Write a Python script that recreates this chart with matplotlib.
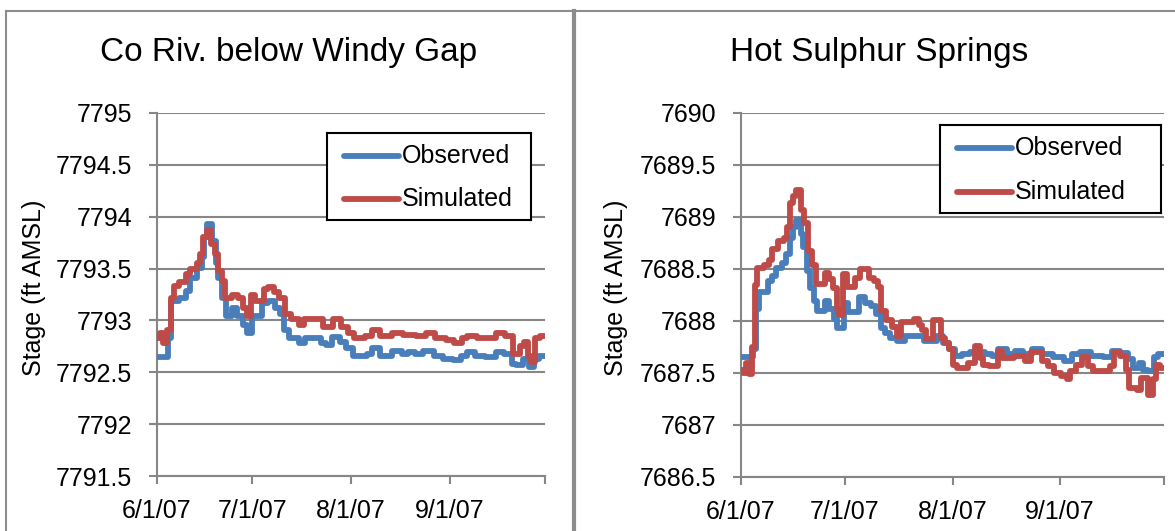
import numpy as np
import matplotlib
matplotlib.use("Agg")
import matplotlib.pyplot as plt
from matplotlib.lines import Line2D

plt.rcParams['font.family'] = ['Liberation Sans', 'DejaVu Sans']

# ---------------- data (day offset from 6/1/2007, stage ft AMSL) ----------------
titles = ["Co Riv. below Windy Gap", "Hot Sulphur Springs"]
series_names = ["Observed", "Simulated"]
x_tick_labels = ["6/1/07", "7/1/07", "8/1/07", "9/1/07", ""]
x_tick_dates = ["2007-06-01", "2007-07-01", "2007-08-01", "2007-09-01", "2007-10-01"]
y_ticks_left = [7791.5, 7792, 7792.5, 7793, 7793.5, 7794, 7794.5, 7795]
y_ticks_right = [7686.5, 7687, 7687.5, 7688, 7688.5, 7689, 7689.5, 7690]

obs_left_day = [0, 3.5, 4.5, 7, 9, 10.5, 12.5, 14, 14.8, 15.6, 17.3, 18.5, 19.3, 20.3, 21.8,
                23.5, 25.2, 27, 28.3, 29.8, 33, 35, 37, 38.7, 40, 41.5, 44.5, 46.5, 51.5, 53,
                55, 57.5, 59.5, 61.5, 66, 67.5, 70, 74, 77, 79, 81, 83.5, 87, 90, 93, 95.5,
                97.5, 100, 103, 106.5, 109, 111.5, 113, 115, 117, 118.5, 120, 122]
obs_left_val = [7792.65, 7792.83, 7793.19, 7793.22, 7793.28, 7793.41, 7793.51, 7793.61, 7793.80,
                7793.93, 7793.77, 7793.55, 7793.41, 7793.22, 7793.04, 7793.12, 7793.04, 7792.96,
                7792.88, 7793.04, 7793.17, 7793.19, 7793.12, 7793.06, 7792.91, 7792.83, 7792.78,
                7792.83, 7792.78, 7792.76, 7792.84, 7792.79, 7792.73, 7792.66, 7792.68, 7792.73,
                7792.66, 7792.71, 7792.68, 7792.70, 7792.68, 7792.71, 7792.66, 7792.63, 7792.62,
                7792.66, 7792.70, 7792.66, 7792.65, 7792.70, 7792.68, 7792.58, 7792.57, 7792.63,
                7792.55, 7792.63, 7792.66, 7792.66]

sim_left_day = [0, 1, 2, 3.2, 4.3, 5.2, 7, 9, 10.5, 12.5, 13.5, 14.6, 15.8, 17, 18.2, 19.3, 20.5,
                21.5, 23.5, 25.5, 27, 28.2, 29.5, 30.8, 33.8, 35, 36.8, 38.5, 40.2, 42, 44.5,
                46.3, 50, 52.3, 55.3, 57.8, 60, 62, 65.5, 67.5, 70, 74, 77.5, 81.5, 84.5, 87.5,
                91, 93.3, 96, 97.5, 100.5, 106.5, 109.5, 112, 114, 115.3, 116.5, 117.6, 119,
                120.3, 122]
sim_left_val = [7792.83, 7792.88, 7792.78, 7792.91, 7793.22, 7793.33, 7793.37, 7793.45, 7793.50,
                7793.55, 7793.64, 7793.80, 7793.87, 7793.74, 7793.64, 7793.48, 7793.38, 7793.22,
                7793.25, 7793.22, 7793.12, 7793.04, 7793.25, 7793.19, 7793.30, 7793.32, 7793.27,
                7793.22, 7793.06, 7793.01, 7792.96, 7793.01, 7793.01, 7792.94, 7793.01, 7792.94,
                7792.88, 7792.83, 7792.85, 7792.91, 7792.85, 7792.88, 7792.86, 7792.85, 7792.88,
                7792.83, 7792.81, 7792.78, 7792.83, 7792.85, 7792.83, 7792.88, 7792.85, 7792.68,
                7792.75, 7792.79, 7792.66, 7792.60, 7792.83, 7792.85, 7792.85]

obs_right_day = [0, 3.5, 4.4, 5.2, 7.8, 9, 10.2, 11.8, 13, 14, 15, 16, 17.2, 18, 18.9, 19.9, 21,
                 22, 24.2, 25.5, 26.8, 27.8, 29.6, 30.8, 34, 35.8, 37.5, 39, 40.3, 41.4, 43, 45,
                 47.3, 52.8, 56.6, 58.3, 60, 61.6, 63.8, 66, 70.3, 72.5, 74.2, 76.8, 79, 81.3,
                 84, 86.8, 90, 93.3, 95.6, 97.8, 101, 104.3, 107, 109.3, 111.5, 113, 114.8,
                 115.8, 117.5, 119.2, 120.3, 122]
obs_right_val = [7687.65, 7687.73, 7688.12, 7688.28, 7688.38, 7688.43, 7688.51, 7688.56, 7688.64,
                 7688.80, 7688.90, 7688.97, 7688.84, 7688.71, 7688.48, 7688.32, 7688.19, 7688.10,
                 7688.19, 7688.12, 7688.02, 7687.93, 7688.17, 7688.09, 7688.23, 7688.17, 7688.14,
                 7688.07, 7687.93, 7687.88, 7687.84, 7687.81, 7687.86, 7687.81, 7687.86, 7687.79,
                 7687.73, 7687.66, 7687.68, 7687.70, 7687.68, 7687.66, 7687.73, 7687.68, 7687.71,
                 7687.68, 7687.73, 7687.68, 7687.65, 7687.62, 7687.68, 7687.70, 7687.66, 7687.65,
                 7687.71, 7687.69, 7687.63, 7687.55, 7687.60, 7687.53, 7687.52, 7687.65, 7687.68,
                 7687.68]

sim_right_day = [0, 0.6, 1.4, 2.2, 3.1, 3.9, 4.7, 6.5, 8, 9, 10.7, 12.3, 13.2, 14, 15.1, 16,
                 17.2, 18.3, 19.3, 20.4, 21.5, 24.2, 25.5, 26.5, 27.6, 28.4, 29.3, 30.6, 33,
                 34.2, 36.9, 38.5, 39.6, 40.5, 41.8, 43.5, 45.1, 46.2, 50, 51.2, 52.3, 53.4,
                 55.5, 57.8, 58.9, 60, 61, 62.2, 65.4, 67.6, 68.8, 69.8, 71.5, 74.2, 75.3, 78.6,
                 82, 83.5, 86.8, 88.5, 90.2, 92.3, 94, 95, 96.6, 98.3, 100, 101.6, 106.5, 107.6,
                 109.3, 111, 112, 114.3, 115.4, 117.5, 118.7, 119.8, 120.9, 122]
sim_right_val = [7687.53, 7687.50, 7687.60, 7687.49, 7687.75, 7688.35, 7688.51, 7688.54, 7688.59,
                 7688.69, 7688.77, 7688.80, 7688.90, 7689.13, 7689.20, 7689.26, 7689.07, 7688.94,
                 7688.67, 7688.54, 7688.36, 7688.46, 7688.40, 7688.32, 7688.12, 7688.06, 7688.45,
                 7688.33, 7688.41, 7688.50, 7688.41, 7688.38, 7688.33, 7688.10, 7688.01, 7687.94,
                 7687.86, 7687.99, 7688.02, 7687.96, 7687.91, 7687.83, 7688.01, 7687.84, 7687.79,
                 7687.73, 7687.58, 7687.55, 7687.60, 7687.76, 7687.64, 7687.58, 7687.57, 7687.71,
                 7687.64, 7687.66, 7687.62, 7687.70, 7687.62, 7687.57, 7687.50, 7687.47, 7687.44,
                 7687.52, 7687.58, 7687.65, 7687.57, 7687.52, 7687.57, 7687.70, 7687.66, 7687.53,
                 7687.36, 7687.34, 7687.45, 7687.29, 7687.44, 7687.58, 7687.55, 7687.55]

# ---------------- styling ----------------
BLUE = "#4A7EBB"
RED = "#BE4B48"
GRID = "#868686"
LW = 4.2
W, H = 1175, 531
DPI = 100
fig = plt.figure(figsize=(W / DPI, H / DPI), dpi=DPI)
fig.patch.set_facecolor("white")

base = np.datetime64("2007-06-01")


def to_dates(days):
    return base + (np.array(days) * 24 * 3600).astype("timedelta64[s]")


panels = [
    dict(rect=[157 / W, 1 - 476 / H, 388 / W, 363 / H], yt=y_ticks_left,
         obs=(obs_left_day, obs_left_val), sim=(sim_left_day, sim_left_val),
         title_x=289, ylab_x=34, leg=(327, 133, 531, 220)),
    dict(rect=[741 / W, 1 - 477 / H, 423 / W, 364 / H], yt=y_ticks_right,
         obs=(obs_right_day, obs_right_val), sim=(sim_right_day, sim_right_val),
         title_x=879, ylab_x=616, leg=(940, 125, 1161, 213)),
]

xt = [np.datetime64(d) for d in x_tick_dates]

for i, p in enumerate(panels):
    ax = fig.add_axes(p["rect"])
    ax.plot(to_dates(p["obs"][0]), p["obs"][1], drawstyle="steps-post", color=BLUE,
            lw=LW, solid_joinstyle="round", solid_capstyle="round", label=series_names[0],
            zorder=3)
    ax.plot(to_dates(p["sim"][0]), p["sim"][1], drawstyle="steps-post", color=RED,
            lw=LW, solid_joinstyle="round", solid_capstyle="round", label=series_names[1],
            zorder=4)
    ax.set_xlim(xt[0], xt[-1])
    ax.set_ylim(p["yt"][0], p["yt"][-1])
    ax.set_yticks(p["yt"])
    ax.set_yticklabels([f"{v:g}" for v in p["yt"]])
    ax.set_xticks(xt)
    ax.set_xticklabels(x_tick_labels)
    ax.grid(axis="y", color=GRID, lw=1.5, zorder=1)
    ax.set_axisbelow(True)
    for s in ["top", "right"]:
        ax.spines[s].set_visible(False)
    for s in ["left", "bottom"]:
        ax.spines[s].set_color(GRID)
        ax.spines[s].set_linewidth(1.5)
    ax.tick_params(axis="y", length=6, width=1.5, color=GRID, pad=12, labelsize=18,
                   labelcolor="black")
    ax.tick_params(axis="x", length=5.5, width=1.5, color=GRID, pad=11, labelsize=18,
                   labelcolor="black")
    ax.set_facecolor("white")

    # title and y label in figure coordinates
    fig.text(p["title_x"] / W, 1 - 53 / H, titles[i], ha="center", va="center", fontsize=24)
    fig.text(p["ylab_x"] / W, 1 - 288 / H, "Stage (ft AMSL)", rotation=90, ha="center",
             va="center", fontsize=18)

    # legend box
    lx0, ly0, lx1, ly1 = p["leg"]
    leg_ax = fig.add_axes([lx0 / W, 1 - ly1 / H, (lx1 - lx0) / W, (ly1 - ly0) / H])
    leg_ax.set_xlim(lx0, lx1)
    leg_ax.set_ylim(ly1, ly0)
    leg_ax.set_xticks([])
    leg_ax.set_yticks([])
    for s in leg_ax.spines.values():
        s.set_color("black")
        s.set_linewidth(1.5)
    leg_ax.set_facecolor("white")
    hh = ly1 - ly0
    for j, (name, col) in enumerate(zip(series_names, [BLUE, RED])):
        yy = ly0 + hh * (0.26 + 0.5 * j)
        leg_ax.plot([lx0 + 17, lx0 + 72], [yy, yy], color=col, lw=LW, solid_capstyle="round")
        leg_ax.text(lx0 + 75, yy, name, ha="left", va="center", fontsize=18)

# outer chart borders
border = dict(color="#8C8C8C", transform=fig.transFigure, clip_on=False)
fig.add_artist(Line2D([6 / W, 1.0], [1 - 10.5 / H, 1 - 10.5 / H], lw=1.5, **border))
fig.add_artist(Line2D([6 / W, 6 / W], [0, 1 - 10.5 / H], lw=1.5, **border))
fig.add_artist(Line2D([574 / W, 574 / W], [0, 1 - 10.5 / H], lw=3, **border))

fig.savefig("out.png", dpi=DPI)
